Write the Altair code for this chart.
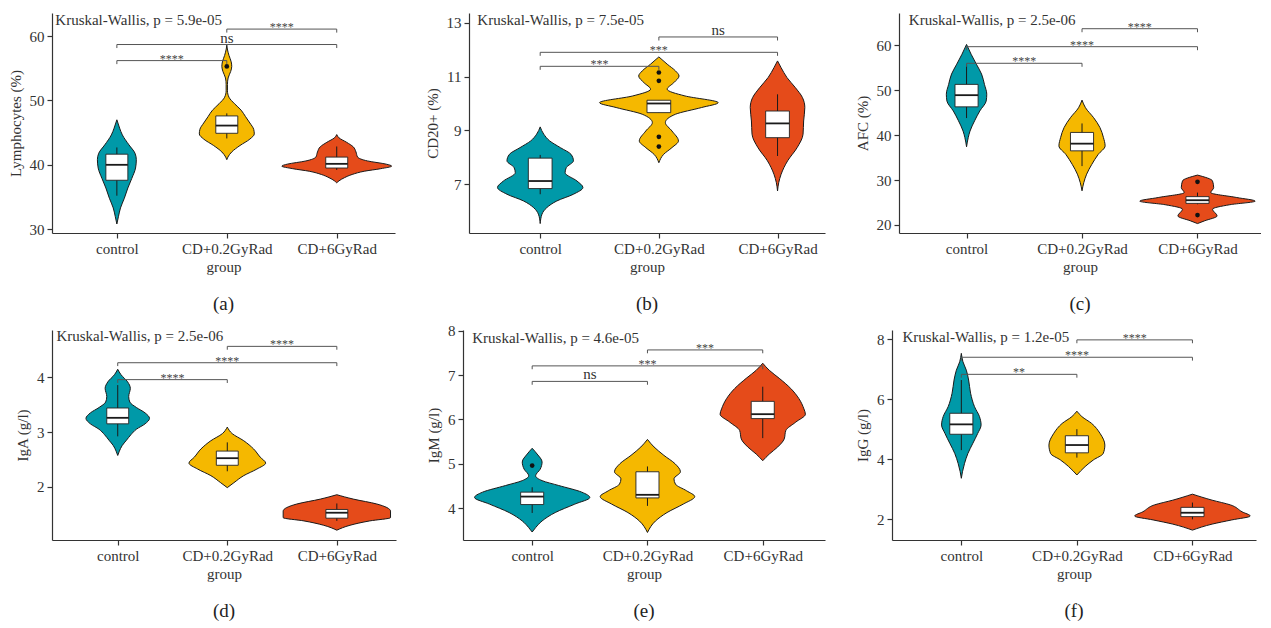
import altair as alt
import pandas as pd

FONT = "Liberation Serif"
GROUPS = ["control", "CD+0.2GyRad", "CD+6GyRad"]
COLORS = ["#0099A8", "#F5B800", "#E54B1A"]

# ---- violin profiles: (value, half-width in group units) ----
A_CTRL = [(30.8, 0), (32.0, 0.015), (33.3, 0.033), (34.8, 0.068), (36.4, 0.1), (37.9, 0.136), (39.5, 0.17),
          (40.8, 0.177), (41.8, 0.165), (43.1, 0.11), (44.65, 0.05), (45.7, 0.025), (47.0, 0)]
A_LOW = [(40.8, 0), (41.2, 0.01), (42, 0.045), (43, 0.12), (44, 0.21), (44.8, 0.25), (45.5, 0.245), (46.5, 0.21),
         (47.5, 0.17), (48.5, 0.13), (49.5, 0.07), (50.5, 0.02), (51.5, 0.006), (52.5, 0.006), (53.5, 0.012),
         (54.5, 0.035), (55.3, 0.045), (56, 0.04), (57, 0.02), (58, 0.005), (58.6, 0)]
A_HIGH = [(37.2, 0), (37.5, 0.02), (38, 0.07), (38.5, 0.14), (39, 0.25), (39.4, 0.40), (39.8, 0.50), (40.1, 0.45),
          (40.6, 0.28), (41.2, 0.19), (42, 0.175), (42.8, 0.15), (43.5, 0.09), (44.2, 0.02), (44.7, 0)]

B_CTRL = [(5.54, 0), (5.89, 0.015), (6.13, 0.055), (6.38, 0.14), (6.63, 0.28), (6.88, 0.36), (7.12, 0.31),
          (7.43, 0.21), (7.62, 0.22), (7.87, 0.28), (8.11, 0.26), (8.36, 0.17), (8.61, 0.08), (8.86, 0.03), (9.13, 0)]
B_LOW = [(7.8, 0), (8.11, 0.04), (8.36, 0.11), (8.61, 0.165), (8.98, 0.11), (9.29, 0.055), (9.6, 0.14),
         (9.85, 0.36), (10.03, 0.50), (10.28, 0.22), (10.53, 0.07), (10.77, 0.125), (11.02, 0.17), (11.21, 0.14),
         (11.46, 0.07), (11.73, 0)]
B_HIGH = [(6.75, 0), (7.06, 0.01), (7.37, 0.03), (7.87, 0.085), (8.36, 0.165), (8.86, 0.215), (9.35, 0.22),
          (9.85, 0.23), (10.22, 0.21), (10.59, 0.15), (10.96, 0.08), (11.33, 0.03), (11.58, 0)]

C_CTRL = [(37.4, 0), (39.5, 0.015), (40.9, 0.03), (43.2, 0.07), (45.4, 0.115), (47.6, 0.17), (49.1, 0.175),
          (51.3, 0.155), (53.6, 0.13), (55.8, 0.085), (58.0, 0.04), (60.2, 0)]
C_LOW = [(27.6, 0), (29.4, 0.015), (31.3, 0.04), (33.5, 0.085), (35.7, 0.14), (37.6, 0.2), (39.5, 0.185),
         (41.7, 0.155), (43.9, 0.1), (46.1, 0.03), (47.8, 0)]
C_HIGH = [(20.3, 0), (20.9, 0.06), (22.0, 0.17), (23.5, 0.13), (24.5, 0.28), (25.3, 0.50), (26.1, 0.34),
          (27.2, 0.115), (28.3, 0.14), (29.8, 0.13), (31.1, 0)]

D_CTRL = [(2.57, 0), (2.65, 0.015), (2.75, 0.04), (2.85, 0.08), (2.95, 0.12), (3.05, 0.17), (3.15, 0.25),
          (3.25, 0.29), (3.35, 0.25), (3.45, 0.17), (3.55, 0.11), (3.65, 0.10), (3.8, 0.115), (3.92, 0.09),
          (4.05, 0.03), (4.15, 0)]
D_LOW = [(1.98, 0), (2.07, 0.06), (2.2, 0.15), (2.32, 0.27), (2.43, 0.35), (2.54, 0.30), (2.69, 0.24),
         (2.84, 0.15), (2.97, 0.045), (3.09, 0)]
D_HIGH = [(1.2, 0), (1.29, 0.12), (1.37, 0.3), (1.43, 0.49), (1.55, 0.49), (1.68, 0.365), (1.77, 0.15), (1.85, 0)]

E_CTRL = [(3.46, 0), (3.56, 0.03), (3.71, 0.086), (3.9, 0.2), (4.09, 0.37), (4.24, 0.5), (4.36, 0.43),
          (4.51, 0.23), (4.62, 0.086), (4.73, 0.03), (4.88, 0.07), (5.04, 0.086), (5.22, 0.043), (5.35, 0)]
E_LOW = [(3.45, 0), (3.71, 0.07), (3.9, 0.17), (4.09, 0.31), (4.26, 0.41), (4.39, 0.34), (4.54, 0.243),
         (4.66, 0.23), (4.82, 0.286), (5.0, 0.24), (5.19, 0.143), (5.38, 0.057), (5.55, 0)]
E_HIGH = [(5.07, 0), (5.22, 0.057), (5.38, 0.13), (5.56, 0.186), (5.75, 0.2), (5.94, 0.286), (6.12, 0.37),
          (6.24, 0.357), (6.47, 0.314), (6.70, 0.243), (6.93, 0.143), (7.11, 0.057), (7.27, 0)]

F_CTRL = [(3.36, 0), (3.58, 0.01), (3.86, 0.028), (4.19, 0.057), (4.53, 0.1), (4.86, 0.142), (5.14, 0.171),
          (5.42, 0.157), (5.75, 0.114), (6.2, 0.08), (6.64, 0.063), (6.97, 0.043), (7.25, 0.014), (7.53, 0)]
F_LOW = [(3.47, 0), (3.75, 0.071), (3.97, 0.142), (4.19, 0.228), (4.47, 0.242), (4.86, 0.2), (5.19, 0.128),
         (5.42, 0.043), (5.6, 0)]
F_HIGH = [(1.63, 0), (1.83, 0.17), (1.97, 0.34), (2.1, 0.5), (2.24, 0.43), (2.47, 0.33), (2.63, 0.17), (2.83, 0)]

# ---- box stats per group: (whisker low, q1, median, q3, whisker high) ----
A_BOX = [(35.2, 37.6, 40.0, 41.65, 42.7), (44.1, 44.9, 46.1, 47.6, 48.0), (39.2, 39.5, 40.15, 41.2, 42.85)]
B_BOX = [(6.63, 6.84, 7.12, 7.97, 8.09), (9.66, 9.66, 10.0, 10.12, 10.12), (8.05, 8.73, 9.26, 9.72, 10.34)]
C_BOX = [(43.8, 46.3, 48.9, 51.3, 55.8), (33.1, 36.5, 38.1, 40.6, 42.6), (24.6, 24.8, 25.5, 26.3, 27.2)]
D_BOX = [(2.92, 3.15, 3.26, 3.44, 3.86), (2.28, 2.39, 2.52, 2.65, 2.81), (1.37, 1.42, 1.52, 1.58, 1.69)]
E_BOX = [(3.89, 4.08, 4.26, 4.36, 4.47), (4.05, 4.23, 4.30, 4.82, 4.94), (5.58, 6.02, 6.12, 6.41, 6.74)]
F_BOX = [(4.3, 4.83, 5.16, 5.53, 6.64), (4.05, 4.21, 4.47, 4.78, 5.0), (1.99, 2.08, 2.21, 2.39, 2.55)]

# ---- outliers: (group index, value) ----
A_OUT = [(2, 55.3)]
B_OUT = [(2, 11.15), (2, 10.84), (2, 8.76), (2, 8.40)]
C_OUT = [(3, 29.6), (3, 22.2)]
D_OUT = []
E_OUT = [(1, 4.96)]
F_OUT = []

# ---- significance brackets: (from group, to group, height, label) ----
A_SIG = [(1, 2, 56.2, "****"), (1, 3, 58.7, "ns"), (2, 3, 61.1, "****")]
B_SIG = [(1, 2, 11.38, "***"), (1, 3, 11.9, "***"), (2, 3, 12.47, "ns")]
C_SIG = [(1, 2, 56.0, "****"), (1, 3, 59.7, "****"), (2, 3, 63.7, "****")]
D_SIG = [(1, 2, 3.96, "****"), (1, 3, 4.27, "****"), (2, 3, 4.57, "****")]
E_SIG = [(1, 2, 6.86, "ns"), (1, 3, 7.21, "***"), (2, 3, 7.57, "***")]
F_SIG = [(1, 2, 6.83, "**"), (1, 3, 7.4, "****"), (2, 3, 7.98, "****")]

# ---- Kruskal-Wallis texts ----
KW_TEXT = ["Kruskal-Wallis, p = 5.9e-05", "Kruskal-Wallis, p = 7.5e-05", "Kruskal-Wallis, p = 2.5e-06",
           "Kruskal-Wallis, p = 2.5e-06", "Kruskal-Wallis, p = 4.6e-05", "Kruskal-Wallis, p = 1.2e-05"]
KW_X = [0.44, 0.47, 0.50, 0.44, 0.48, 0.49]
KW_Y = [62.5, 13.1, 65.7, 4.76, 7.83, 8.09]

Y_TITLES = ["Lymphocytes (%)", "CD20+ (%)", "AFC (%)", "IgA (g/l)", "IgM (g/l)", "IgG (g/l)"]
Y_TICKS = [[30, 40, 50, 60], [7, 9, 11, 13], [20, 30, 40, 50, 60], [2, 3, 4], [4, 5, 6, 7, 8], [2, 4, 6, 8]]
Y_DOMAINS = [[29.4, 63.6], [5.19, 13.36], [18.2, 67.2], [1.02, 4.87], [3.28, 8.02], [1.3, 8.31]]
X_DOMAINS = [[0.41, 3.53], [0.40, 3.40], [0.415, 3.55], [0.40, 3.54], [0.40, 3.54], [0.40, 3.55]]
WIDTHS = [343, 356, 362, 344, 362, 364]
HEIGHTS = [220, 220, 220, 210, 210, 210]
CAPTIONS = ["(a)", "(b)", "(c)", "(d)", "(e)", "(f)"]

PROFILES = [[A_CTRL, A_LOW, A_HIGH], [B_CTRL, B_LOW, B_HIGH], [C_CTRL, C_LOW, C_HIGH],
            [D_CTRL, D_LOW, D_HIGH], [E_CTRL, E_LOW, E_HIGH], [F_CTRL, F_LOW, F_HIGH]]
BOXES = [A_BOX, B_BOX, C_BOX, D_BOX, E_BOX, F_BOX]
OUTS = [A_OUT, B_OUT, C_OUT, D_OUT, E_OUT, F_OUT]
SIGS = [A_SIG, B_SIG, C_SIG, D_SIG, E_SIG, F_SIG]

BOX_HALF = 0.1
TIP_FRAC = 0.016

label_expr = ("datum.value == 1 ? '%s' : datum.value == 2 ? '%s' : '%s'" % tuple(GROUPS))


def panel(i):
    xs = alt.Scale(domain=X_DOMAINS[i], nice=False, zero=False)
    ys = alt.Scale(domain=Y_DOMAINS[i], nice=False, zero=False)
    xaxis = alt.Axis(values=[1, 2, 3], labelExpr=label_expr, title="group", tickSize=5,
                     labelPadding=3, titlePadding=3)
    yaxis = alt.Axis(values=Y_TICKS[i], format="d", title=Y_TITLES[i], tickSize=5,
                     labelPadding=3, titlePadding=6)

    vrows = []
    for gi, prof in enumerate(PROFILES[i]):
        for v, w in sorted(prof):
            vrows.append({"group": GROUPS[gi], "v": v, "xl": gi + 1 - w, "xr": gi + 1 + w})
    vdf = pd.DataFrame(vrows)

    brows = []
    for gi, (wl, q1, med, q3, wh) in enumerate(BOXES[i]):
        brows.append({"pos": gi + 1, "bl": gi + 1 - BOX_HALF, "br": gi + 1 + BOX_HALF,
                      "wl": wl, "q1": q1, "med": med, "q3": q3, "wh": wh})
    bdf = pd.DataFrame(brows)

    odf = pd.DataFrame([{"pos": g, "v": v} for g, v in OUTS[i]], columns=["pos", "v"])

    rng = Y_DOMAINS[i][1] - Y_DOMAINS[i][0]
    srows, trows = [], []
    for a, b, h, lab in SIGS[i]:
        srows.append({"x1": a, "x2": b, "h": h, "mid": (a + b) / 2, "lab": lab,
                      "star": lab.startswith("*")})
        trows.append({"x": a, "h": h, "h2": h - rng * TIP_FRAC})
        trows.append({"x": b, "h": h, "h2": h - rng * TIP_FRAC})
    sdf = pd.DataFrame(srows)
    tdf = pd.DataFrame(trows)

    kdf = pd.DataFrame([{"x": KW_X[i], "y": KW_Y[i], "t": KW_TEXT[i]}])

    violin = alt.Chart(vdf).mark_area(orient="horizontal", interpolate="monotone", stroke="#1a1a1a",
                                      strokeWidth=1, fillOpacity=1).encode(
        y=alt.Y("v:Q", scale=ys, axis=yaxis),
        x=alt.X("xl:Q", scale=xs, axis=xaxis),
        x2="xr:Q",
        color=alt.Color("group:N", scale=alt.Scale(domain=GROUPS, range=COLORS), legend=None),
    )
    whisk = alt.Chart(bdf).mark_rule(color="#1a1a1a", strokeWidth=1).encode(
        x=alt.X("pos:Q", scale=xs), y=alt.Y("wl:Q", scale=ys), y2="wh:Q")
    box = alt.Chart(bdf).mark_rect(fill="white", stroke="#222", strokeWidth=0.9).encode(
        x=alt.X("bl:Q", scale=xs), x2="br:Q", y=alt.Y("q1:Q", scale=ys), y2="q3:Q")
    median = alt.Chart(bdf).mark_rule(color="#1a1a1a", strokeWidth=1.8).encode(
        x=alt.X("bl:Q", scale=xs), x2="br:Q", y=alt.Y("med:Q", scale=ys))
    outl = alt.Chart(odf).mark_circle(color="#111", size=22, opacity=1).encode(
        x=alt.X("pos:Q", scale=xs), y=alt.Y("v:Q", scale=ys))
    brk = alt.Chart(sdf).mark_rule(color="#555", strokeWidth=1).encode(
        x=alt.X("x1:Q", scale=xs), x2="x2:Q", y=alt.Y("h:Q", scale=ys))
    tips = alt.Chart(tdf).mark_rule(color="#555", strokeWidth=1).encode(
        x=alt.X("x:Q", scale=xs), y=alt.Y("h:Q", scale=ys), y2="h2:Q")
    stars = alt.Chart(sdf).transform_filter("datum.star").mark_text(
        font=FONT, fontSize=12, color="#444", baseline="alphabetic", dy=2).encode(
        x=alt.X("mid:Q", scale=xs), y=alt.Y("h:Q", scale=ys), text="lab:N")
    ns = alt.Chart(sdf).transform_filter("!datum.star").mark_text(
        font=FONT, fontSize=15, color="#333", baseline="bottom", dy=1).encode(
        x=alt.X("mid:Q", scale=xs), y=alt.Y("h:Q", scale=ys), text="lab:N")
    kw = alt.Chart(kdf).mark_text(font=FONT, fontSize=15, color="#333", align="left",
                                  baseline="middle").encode(
        x=alt.X("x:Q", scale=xs), y=alt.Y("y:Q", scale=ys), text="t:N")

    return alt.layer(violin, whisk, box, median, outl, brk, tips, stars, ns, kw).properties(
        width=WIDTHS[i], height=HEIGHTS[i],
        title=alt.TitleParams(CAPTIONS[i], orient="bottom", fontSize=19, font=FONT,
                              fontWeight="normal", color="#222", offset=21, anchor="middle"))


top = alt.hconcat(panel(0), panel(1), panel(2), spacing=30)
bottom = alt.hconcat(panel(3), panel(4), panel(5), spacing=30)
chart = alt.vconcat(top, bottom, spacing=9).properties(
    padding={"left": 0, "top": 4, "right": 0, "bottom": 0}
).configure_view(stroke=None).configure_axis(
    grid=False, labelFont=FONT, titleFont=FONT, labelFontSize=15, titleFontSize=15,
    labelColor="#333", titleColor="#333", titleFontWeight="normal",
    domainColor="#333", tickColor="#333", domainWidth=1.2, tickWidth=1.2
)

chart.save("out.html", embed_options={"renderer": "svg", "actions": False})
